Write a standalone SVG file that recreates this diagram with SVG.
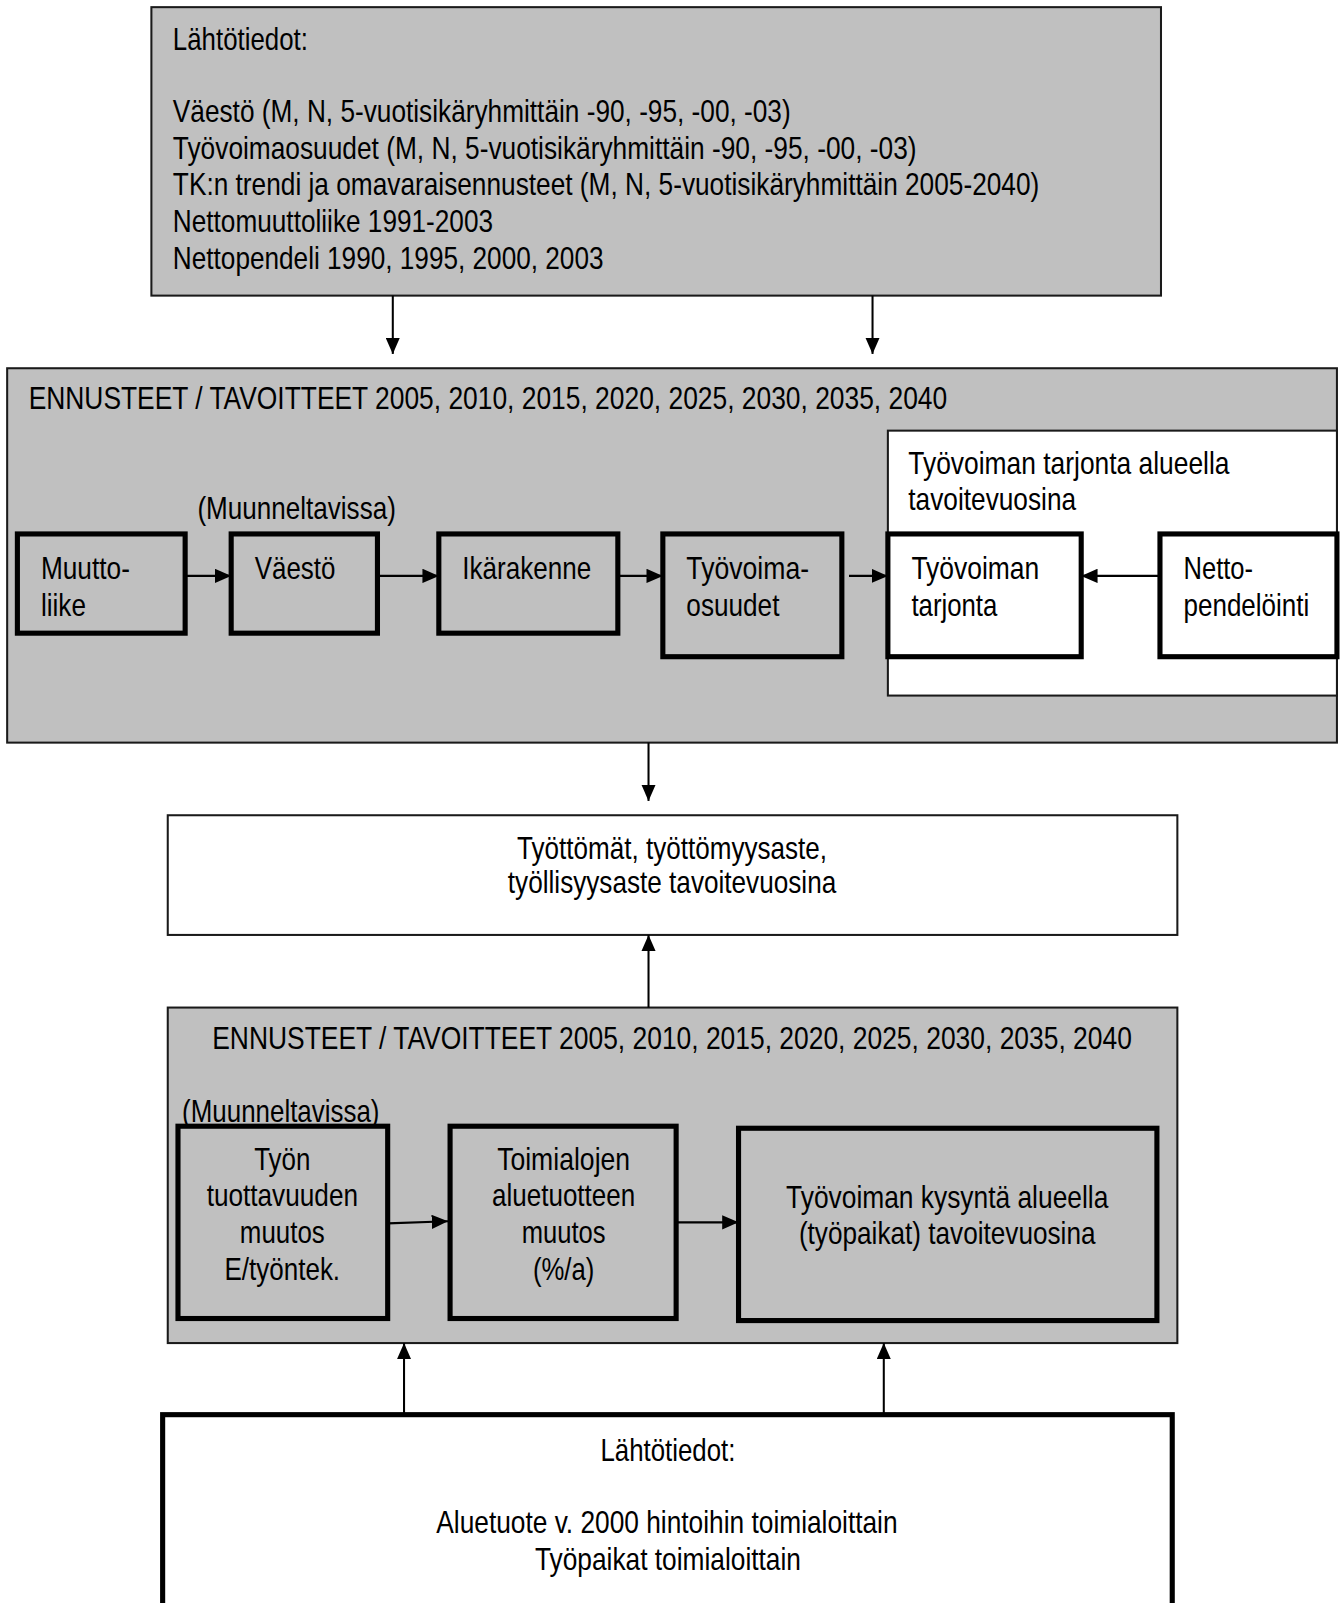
<svg xmlns="http://www.w3.org/2000/svg" width="1340" height="1603" viewBox="0 0 1340 1603">
<style>
text{font-family:"Liberation Sans Narrow","Liberation Sans",Arial,sans-serif;font-size:30px;fill:#000}
.c{text-anchor:middle}
.gray{fill:#c0c0c0;stroke:#1a1a1a;stroke-width:2}
.white{fill:#fff;stroke:#1a1a1a;stroke-width:2}
.thk{stroke:#000;stroke-width:5}
.conn line{stroke:#000;stroke-width:2;fill:none}
</style>
<defs>
<marker id="ah" markerUnits="userSpaceOnUse" markerWidth="16" markerHeight="14" refX="16" refY="7" orient="auto">
<path d="M0,0 L16,7 L0,14 Z" fill="#000"/>
</marker>
</defs>
<rect x="0" y="0" width="1340" height="1603" fill="#fff"/>
<g transform="scale(1.0229)">

<g id="lahtotiedot-top">
<rect class="gray" x="148" y="7" width="987" height="282"/>
<text x="169" y="49" textLength="132" lengthAdjust="spacingAndGlyphs">Lähtötiedot:</text>
<text x="169" y="119" textLength="604" lengthAdjust="spacingAndGlyphs">Väestö (M, N, 5-vuotisikäryhmittäin -90, -95, -00, -03)</text>
<text x="169" y="155" textLength="727" lengthAdjust="spacingAndGlyphs">Työvoimaosuudet (M, N, 5-vuotisikäryhmittäin -90, -95, -00, -03)</text>
<text x="169" y="191" textLength="847" lengthAdjust="spacingAndGlyphs">TK:n trendi ja omavaraisennusteet (M, N, 5-vuotisikäryhmittäin 2005-2040)</text>
<text x="169" y="227" textLength="313" lengthAdjust="spacingAndGlyphs">Nettomuuttoliike 1991-2003</text>
<text x="169" y="263" textLength="421" lengthAdjust="spacingAndGlyphs">Nettopendeli 1990, 1995, 2000, 2003</text>
</g>

<g id="ennusteet-tarjonta">
<rect class="gray" x="7" y="360" width="1300" height="366"/>
<text x="28" y="400" textLength="898" lengthAdjust="spacingAndGlyphs">ENNUSTEET / TAVOITTEET 2005, 2010, 2015, 2020, 2025, 2030, 2035, 2040</text>
<text x="193" y="507" textLength="194" lengthAdjust="spacingAndGlyphs">(Muunneltavissa)</text>
</g>

<g id="tarjonta-alue">
<rect class="white" x="868" y="421" width="439" height="259"/>
<text x="888" y="463" textLength="314" lengthAdjust="spacingAndGlyphs">Työvoiman tarjonta alueella</text>
<text x="888" y="499" textLength="164" lengthAdjust="spacingAndGlyphs">tavoitevuosina</text>
</g>

<g id="muuttoliike">
<rect class="gray thk" x="17" y="522" width="164" height="97"/>
<text x="40" y="566" textLength="87" lengthAdjust="spacingAndGlyphs">Muutto-</text>
<text x="40" y="602" textLength="44" lengthAdjust="spacingAndGlyphs">liike</text>
</g>

<g id="vaesto">
<rect class="gray thk" x="226" y="522" width="143" height="97"/>
<text x="249" y="566" textLength="79" lengthAdjust="spacingAndGlyphs">Väestö</text>
</g>

<g id="ikarakenne">
<rect class="gray thk" x="429" y="522" width="175" height="97"/>
<text x="452" y="566" textLength="126" lengthAdjust="spacingAndGlyphs">Ikärakenne</text>
</g>

<g id="tyovoimaosuudet">
<rect class="gray thk" x="648" y="522" width="175" height="120"/>
<text x="671" y="566" textLength="120" lengthAdjust="spacingAndGlyphs">Työvoima-</text>
<text x="671" y="602" textLength="91" lengthAdjust="spacingAndGlyphs">osuudet</text>
</g>

<g id="tyovoiman-tarjonta">
<rect class="white thk" x="868" y="522" width="189" height="120"/>
<text x="891" y="566" textLength="125" lengthAdjust="spacingAndGlyphs">Työvoiman</text>
<text x="891" y="602" textLength="84" lengthAdjust="spacingAndGlyphs">tarjonta</text>
</g>

<g id="nettopendelointi">
<rect class="white thk" x="1134" y="522" width="173" height="120"/>
<text x="1157" y="566" textLength="68" lengthAdjust="spacingAndGlyphs">Netto-</text>
<text x="1157" y="602" textLength="123" lengthAdjust="spacingAndGlyphs">pendelöinti</text>
</g>

<g id="tyottomat">
<rect class="white" x="164" y="797" width="987" height="117"/>
<text class="c" x="657" y="840" textLength="303" lengthAdjust="spacingAndGlyphs">Työttömät, työttömyysaste,</text>
<text class="c" x="657" y="873" textLength="321" lengthAdjust="spacingAndGlyphs">työllisyysaste tavoitevuosina</text>
</g>

<g id="ennusteet-kysynta">
<rect class="gray" x="164" y="985" width="987" height="328"/>
<text class="c" x="657" y="1026" textLength="899" lengthAdjust="spacingAndGlyphs">ENNUSTEET / TAVOITTEET 2005, 2010, 2015, 2020, 2025, 2030, 2035, 2040</text>
<text x="178" y="1097" textLength="193" lengthAdjust="spacingAndGlyphs">(Muunneltavissa)</text>
</g>

<g id="tuottavuus">
<rect class="gray thk" x="174" y="1101" width="205" height="188"/>
<text class="c" x="276" y="1144" textLength="55" lengthAdjust="spacingAndGlyphs">Työn</text>
<text class="c" x="276" y="1179" textLength="148" lengthAdjust="spacingAndGlyphs">tuottavuuden</text>
<text class="c" x="276" y="1215" textLength="83" lengthAdjust="spacingAndGlyphs">muutos</text>
<text class="c" x="276" y="1251" textLength="113" lengthAdjust="spacingAndGlyphs">E/työntek.</text>
</g>

<g id="aluetuote-muutos">
<rect class="gray thk" x="440" y="1101" width="221" height="188"/>
<text class="c" x="551" y="1144" textLength="130" lengthAdjust="spacingAndGlyphs">Toimialojen</text>
<text class="c" x="551" y="1179" textLength="140" lengthAdjust="spacingAndGlyphs">aluetuotteen</text>
<text class="c" x="551" y="1215" textLength="82" lengthAdjust="spacingAndGlyphs">muutos</text>
<text class="c" x="551" y="1251" textLength="60" lengthAdjust="spacingAndGlyphs">(%/a)</text>
</g>

<g id="kysynta">
<rect class="gray thk" x="722" y="1103" width="409" height="188"/>
<text class="c" x="926" y="1181" textLength="315" lengthAdjust="spacingAndGlyphs">Työvoiman kysyntä alueella</text>
<text class="c" x="926" y="1216" textLength="290" lengthAdjust="spacingAndGlyphs">(työpaikat) tavoitevuosina</text>
</g>

<g id="lahtotiedot-bottom">
<rect class="white thk" x="159" y="1383" width="987" height="240"/>
<text class="c" x="653" y="1428" textLength="132" lengthAdjust="spacingAndGlyphs">Lähtötiedot:</text>
<text class="c" x="652" y="1499" textLength="451" lengthAdjust="spacingAndGlyphs">Aluetuote v. 2000 hintoihin toimialoittain</text>
<text class="c" x="653" y="1535" textLength="260" lengthAdjust="spacingAndGlyphs">Työpaikat toimialoittain</text>
</g>

<g id="connectors" class="conn">
<line x1="384" y1="289" x2="384" y2="346" marker-end="url(#ah)"/>
<line x1="853" y1="289" x2="853" y2="346" marker-end="url(#ah)"/>
<line x1="181" y1="563" x2="226" y2="563" marker-end="url(#ah)"/>
<line x1="369" y1="563" x2="429" y2="563" marker-end="url(#ah)"/>
<line x1="604" y1="563" x2="648" y2="563" marker-end="url(#ah)"/>
<line x1="830" y1="563" x2="868" y2="563" marker-end="url(#ah)"/>
<line x1="1134" y1="563" x2="1057" y2="563" marker-end="url(#ah)"/>
<line x1="634" y1="726" x2="634" y2="783" marker-end="url(#ah)"/>
<line x1="634" y1="985" x2="634" y2="914" marker-end="url(#ah)"/>
<line x1="379" y1="1196" x2="438" y2="1194" marker-end="url(#ah)"/>
<line x1="661" y1="1195" x2="722" y2="1195" marker-end="url(#ah)"/>
<line x1="395" y1="1383" x2="395" y2="1313" marker-end="url(#ah)"/>
<line x1="864" y1="1383" x2="864" y2="1313" marker-end="url(#ah)"/>
</g>
</g>
</svg>
